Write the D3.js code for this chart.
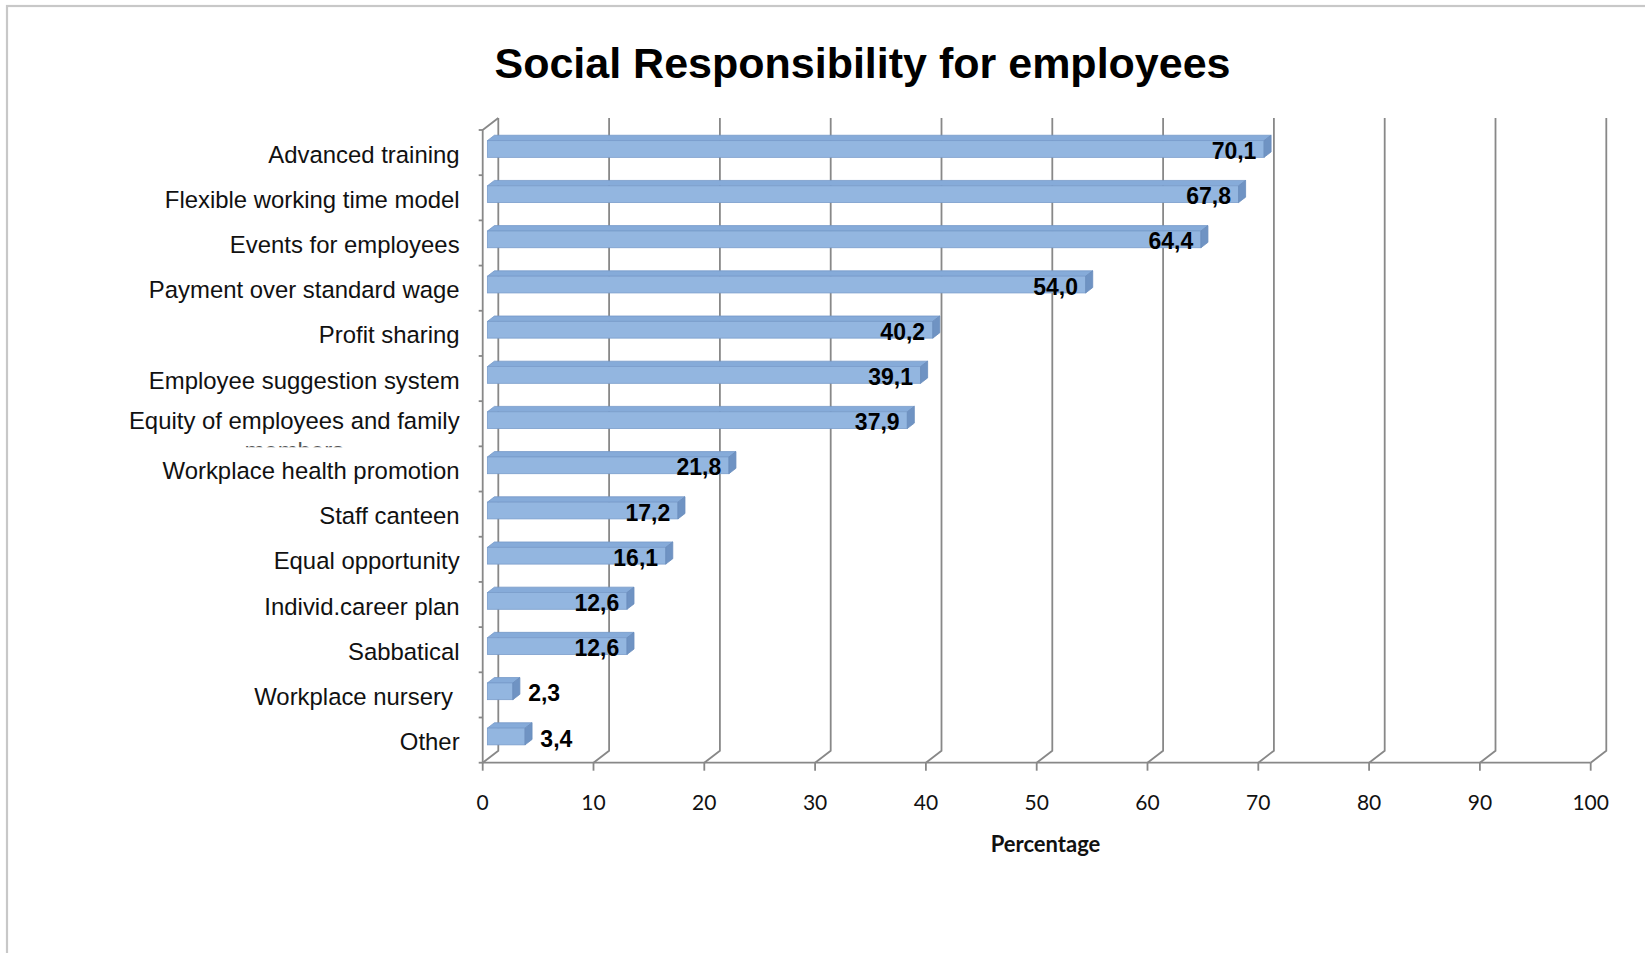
<!DOCTYPE html>
<html>
<head>
<meta charset="utf-8">
<script src="https://cdn.jsdelivr.net/npm/d3@7/dist/d3.min.js"></script>
<style>
  html, body { margin: 0; padding: 0; background: #fff; }
  svg { display: block; }
</style>
</head>
<body>
<svg id="chart" width="1645" height="953"></svg>
<script>
// Survey results: share of companies offering each measure (%)
const categories = [
  "Advanced training",
  "Flexible working time model",
  "Events for employees",
  "Payment over standard wage",
  "Profit sharing",
  "Employee suggestion system",
  "Equity of employees and family\nmembers",
  "Workplace health promotion",
  "Staff canteen",
  "Equal opportunity",
  "Individ.career plan",
  "Sabbatical",
  "Workplace nursery ",
  "Other"
];
const values = [70.1, 67.8, 64.4, 54.0, 40.2, 39.1, 37.9, 21.8, 17.2, 16.1, 12.6, 12.6, 2.3, 3.4];
const xTicks = [0, 10, 20, 30, 40, 50, 60, 70, 80, 90, 100];
const title = "Social Responsibility for employees";
const xTitle = "Percentage";

// Plot geometry (front plane of the pseudo-3D box)
const plot = { left: 482.7, right: 1590.7, top: 130, bottom: 762.7 };
const depth = { dx: 15.6, dy: -12 };        // offset from front plane to back wall
const barDepth = { front: 0.3, back: 0.75 }; // bar slab position inside the depth

const svg = d3.select("#chart");

// Decimal comma formatting
const fmt = d3.formatLocale({ decimal: ",", thousands: ".", grouping: [3], currency: ["", ""] }).format(".1f");

const x = d3.scaleLinear().domain([0, 100]).range([plot.left, plot.right]);
const y = d3.scaleBand().domain(d3.range(categories.length)).range([plot.top, plot.bottom]);

// Outer frame
svg.append("rect")
  .attr("x", 7).attr("y", 6)
  .attr("width", 1700).attr("height", 1000)
  .attr("fill", "none")
  .attr("stroke", "#c8c8c8")
  .attr("stroke-width", 2.2);

// Title
svg.append("text")
  .attr("x", 862.5).attr("y", 77.5)
  .attr("text-anchor", "middle")
  .attr("font-family", "'Liberation Sans', Arial, sans-serif")
  .attr("font-weight", "bold")
  .attr("font-size", 43)
  .attr("fill", "#000")
  .text(title);

const grid = svg.append("g")
  .attr("fill", "none")
  .attr("stroke", "#888")
  .attr("stroke-width", 1.8);

// Back-wall gridlines with their floor diagonals
xTicks.forEach(t => {
  const xf = x(t), xb = x(t) + depth.dx;
  grid.append("path")
    .attr("d", d3.line()([
      [xb, plot.top + depth.dy],
      [xb, plot.bottom + depth.dy],
      [xf, plot.bottom]
    ]));
  // tick below the floor edge
  grid.append("line")
    .attr("x1", xf).attr("x2", xf)
    .attr("y1", plot.bottom).attr("y2", plot.bottom + 8);
});

// Floor front edge
grid.append("line")
  .attr("x1", x(0)).attr("x2", x(100))
  .attr("y1", plot.bottom).attr("y2", plot.bottom);

// Left wall: front edge and top diagonal
grid.append("path")
  .attr("d", d3.line()([
    [plot.left + depth.dx, plot.top + depth.dy],
    [plot.left, plot.top],
    [plot.left, plot.bottom]
  ]));

// Category ticks on the left wall
d3.range(categories.length + 1).forEach(i => {
  const yy = plot.top + i * y.step();
  grid.append("line")
    .attr("x1", plot.left - 4).attr("x2", plot.left)
    .attr("y1", yy).attr("y2", yy);
});

// Bars (front face, top face, end cap)
const fx = barDepth.front * depth.dx, fy = barDepth.front * depth.dy;
const ddx = (barDepth.back - barDepth.front) * depth.dx;
const ddy = (barDepth.back - barDepth.front) * depth.dy;
const frontH = y.bandwidth() * 0.37;

const bars = svg.append("g");
values.forEach((v, i) => {
  const c = y(i) + y.bandwidth() / 2;
  const x0 = x(0) + fx, x1 = x(v) + fx;
  const y0 = c - frontH / 2 + fy;
  const y1 = y0 + frontH;
  const g = bars.append("g");
  // top face
  g.append("path")
    .attr("d", d3.line()([[x0, y0], [x0 + ddx, y0 + ddy], [x1 + ddx, y0 + ddy], [x1, y0]]) + "Z")
    .attr("fill", "#86abd9")
    .attr("stroke", "#7598c8").attr("stroke-width", 0.8);
  // front face
  g.append("rect")
    .attr("x", x0).attr("y", y0)
    .attr("width", x1 - x0).attr("height", frontH)
    .attr("fill", "#93b6e0")
    .attr("stroke", "#7a9dcb").attr("stroke-width", 0.8);
  // end cap
  g.append("path")
    .attr("d", d3.line()([[x1, y0], [x1 + ddx, y0 + ddy], [x1 + ddx, y1 + ddy], [x1, y1]]) + "Z")
    .attr("fill", "#6f93c3")
    .attr("stroke", "#6a8dbd").attr("stroke-width", 0.8);
});

// Value labels
const vlab = svg.append("g")
  .attr("font-family", "'Liberation Sans', Arial, sans-serif")
  .attr("font-weight", "bold")
  .attr("font-size", 23)
  .attr("fill", "#000");
values.forEach((v, i) => {
  const c = y(i) + y.bandwidth() / 2;
  const t = vlab.append("text").attr("y", c + 6.5).text(fmt(v));
  const w = t.node().getComputedTextLength();
  const barW = x(v) - x(0);
  if (barW < w + 12) {
    t.attr("x", x(v) + 20).attr("text-anchor", "start");
  } else {
    t.attr("x", x(v) - 3).attr("text-anchor", "end");
  }
});

// Category labels (clipped to their band, as in the source layout)
const defs = svg.append("defs");
const clab = svg.append("g")
  .attr("font-family", "'Liberation Sans', Arial, sans-serif")
  .attr("font-size", 23.9)
  .attr("fill", "#111");
const labelRight = 459.6;
categories.forEach((name, i) => {
  const c = y(i) + y.bandwidth() / 2;
  const lines = name.split("\n");
  const clipId = "clip-cat-" + i;
  defs.append("clipPath").attr("id", clipId)
    .append("rect")
    .attr("x", 0).attr("y", y(i) - 6)
    .attr("width", labelRight + 10).attr("height", y.bandwidth() + 7);
  const g = clab.append("g").attr("clip-path", `url(#${clipId})`);
  if (lines.length === 1) {
    g.append("text")
      .attr("x", labelRight).attr("y", c + 10)
      .attr("text-anchor", "end")
      .attr("xml:space", "preserve")
      .style("white-space", "pre")
      .text(name);
  } else {
    const first = g.append("text")
      .attr("x", labelRight).attr("y", c + 5.5)
      .attr("text-anchor", "end")
      .text(lines[0]);
    const mid = labelRight - first.node().getComputedTextLength() / 2;
    lines.slice(1).forEach((ln, k) => {
      g.append("text")
        .attr("x", mid).attr("y", c + 5.5 + 30 * (k + 1))
        .attr("text-anchor", "middle")
        .attr("fill", "#555")
        .text(ln);
    });
  }
});

// X tick labels
const tl = svg.append("g")
  .attr("font-family", "Lato, 'Open Sans', sans-serif")
  .attr("font-size", 21)
  .attr("fill", "#111")
  .attr("text-anchor", "middle");
xTicks.forEach(t => {
  tl.append("text").attr("x", x(t)).attr("y", 810).text(t);
});

// X axis title
svg.append("text")
  .attr("x", (x(0) + x(100) + depth.dx) / 2 + 1)
  .attr("y", 852)
  .attr("text-anchor", "middle")
  .attr("font-family", "Lato, 'Open Sans', sans-serif")
  .attr("font-weight", "bold")
  .attr("font-size", 22)
  .attr("fill", "#111")
  .text(xTitle);
</script>
</body>
</html>
